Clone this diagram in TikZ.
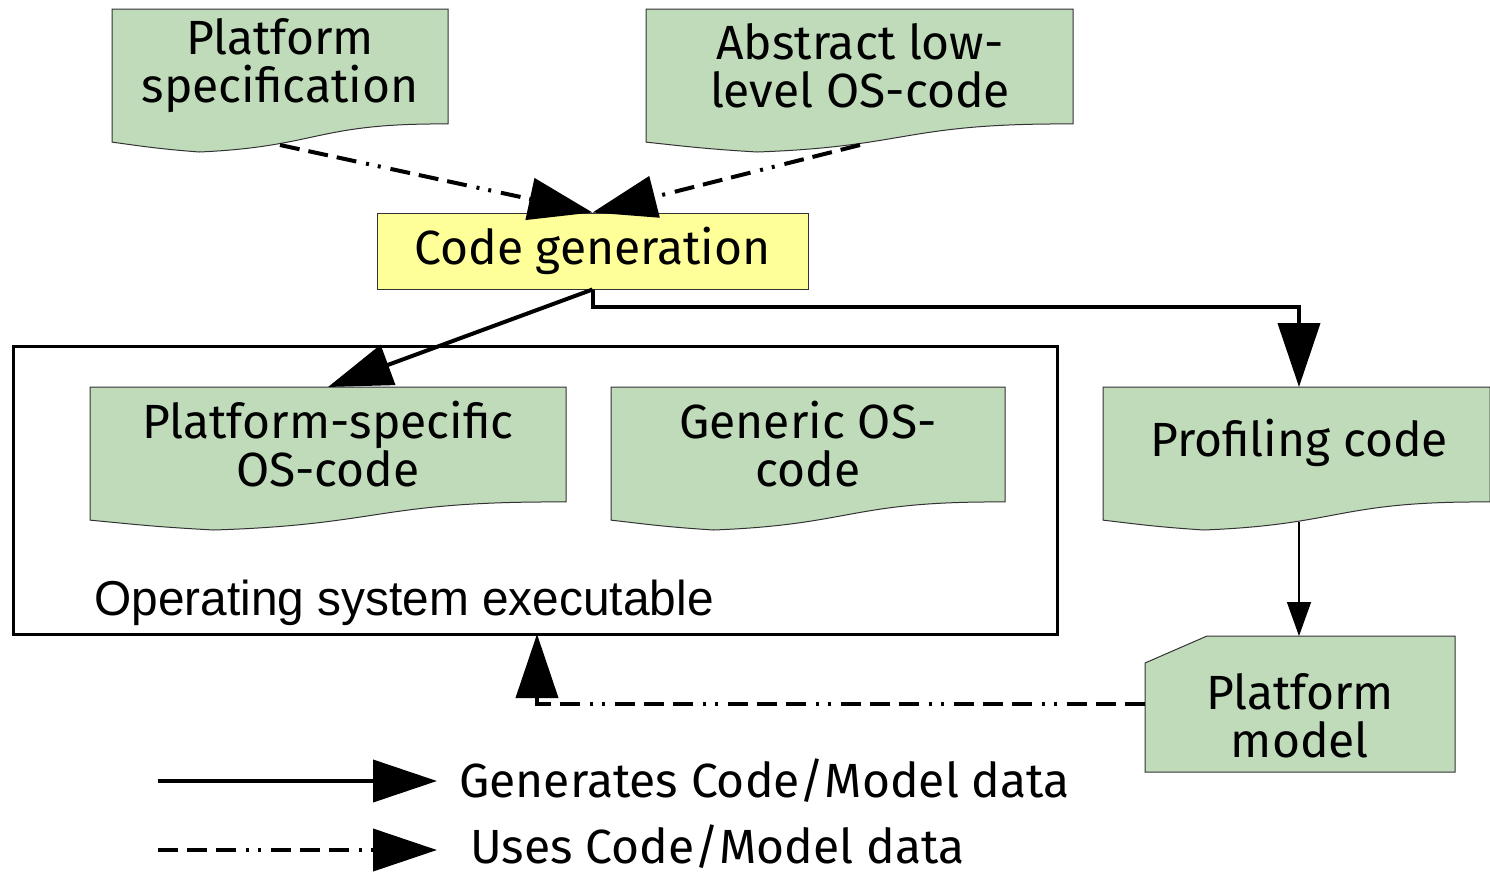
\documentclass[tikz,border=0pt]{standalone}
\usepackage{fontspec}
\setmainfont{Fira Sans}
\newfontfamily\arialfont{Liberation Sans}
\usetikzlibrary{arrows.meta,calc}
\definecolor{docgreen}{HTML}{BFDBBA}
\definecolor{cgyellow}{HTML}{FFFF99}
\definecolor{edgegray}{HTML}{333333}
\newcommand{\docpath}[4]{% x0 y0 x1 y1
  \filldraw[fill=docgreen,draw=edgegray,line width=0.5pt]
    (#1,#2) -- (#3,#2) -- (#3,{#2+0.804*(#4-#2)})
    .. controls ({#1+0.604*(#3-#1)},{#2+0.797*(#4-#2)}) and ({#1+0.618*(#3-#1)},{#2+0.962*(#4-#2)}) .. ({#1+0.26*(#3-#1)},#4)
    .. controls ({#1+0.132*(#3-#1)},{#2+0.977*(#4-#2)}) and ({#1+0.086*(#3-#1)},{#2+0.958*(#4-#2)}) .. (#1,{#2+0.931*(#4-#2)})
    -- cycle;}
\begin{document}
\begin{tikzpicture}[x=0.5pt,y=-0.5pt,
  lbl/.style={font=\fontsize{24}{24}\selectfont,align=center,inner sep=0pt},
  gen/.style={line width=2pt,-{Triangle[length=32pt,width=21pt]}},
  uses/.style={line width=2pt,dash pattern=on 10pt off 4.5pt on 10pt off 4.5pt on 10pt off 5pt on 1.5pt off 4.5pt on 1.5pt off 5pt,-{Triangle[length=32pt,width=21pt]}},
  thinarr/.style={line width=0.75pt,-{Triangle[length=17pt,width=12pt]}}]
\useasboundingbox[fill=white] (0,0) rectangle (1490,875);
% documents
\docpath{112}{9}{448}{152}
\node[lbl] (ps) at (280,66) {Platform\\specification};
\coordinate (psout) at (280,145);
\docpath{646}{9}{1073}{152}
\node[lbl] (ab) at (860,66) {Abstract low-\\level OS-code};
\coordinate (about) at (860,145);
% code generation
\node[lbl,draw=edgegray,line width=0.5pt,fill=cgyellow,minimum width=215.5pt,minimum height=38pt] (cg) at (592.5,251) {Code generation};
% OS executable box
\node[draw,line width=1.5pt,minimum width=522pt,minimum height=144pt,inner sep=0pt] (osbox) at (535,490) {};
\node[font=\arialfont\fontsize{24.5}{24}\selectfont,anchor=base west,inner sep=0pt] (ostext) at (94,615) {\scalebox{0.976}[1]{Operating system executable}};
\docpath{90}{387}{566}{530}
\node[lbl] (psos) at (328,444) {Platform-specific\\OS-code};
\coordinate (psosin) at (328,387);
\docpath{611}{387}{1005}{530}
\node[lbl] (gos) at (808,444) {Generic OS-\\code};
% profiling code
\docpath{1103}{387}{1490}{530}
\node[lbl] (prof) at (1299,443) {Profiling code};
\coordinate (profin) at (1299,387);
\coordinate (profout) at (1299,522);
% platform model
\filldraw[fill=docgreen,draw=edgegray,line width=0.5pt] (1145,663) -- (1207,636) -- (1455,636) -- (1455,772) -- (1145,772) -- cycle;
\node[lbl] (pm) at (1300,716) {Platform\\model};
\coordinate (pmin) at (1299,636);
\coordinate (pmout) at (1145,704);
\coordinate (osin) at (537,634);
% connectors
\draw[uses] (psout) -- (cg.north);
\draw[uses] (about) -- (cg.north);
\draw[gen] (cg.south) -- (psosin);
\draw[gen] (cg.south) -- ++(0,17) -| (profin);
\draw[thinarr] (profout) -- (pmin);
\draw[uses] (pmout) -| (osin);
% legend
\coordinate (l1a) at (158,781);
\coordinate (l1b) at (437,781);
\draw[gen] (l1a) -- (l1b);
\node[lbl,anchor=west] (l1t) at (459,781) {Generates Code/Model data};
\coordinate (l2a) at (158,850);
\coordinate (l2b) at (437,850);
\draw[uses] (l2a) -- (l2b);
\node[lbl,anchor=west] (l2t) at (470,847) {Uses Code/Model data};
\end{tikzpicture}
\end{document}
